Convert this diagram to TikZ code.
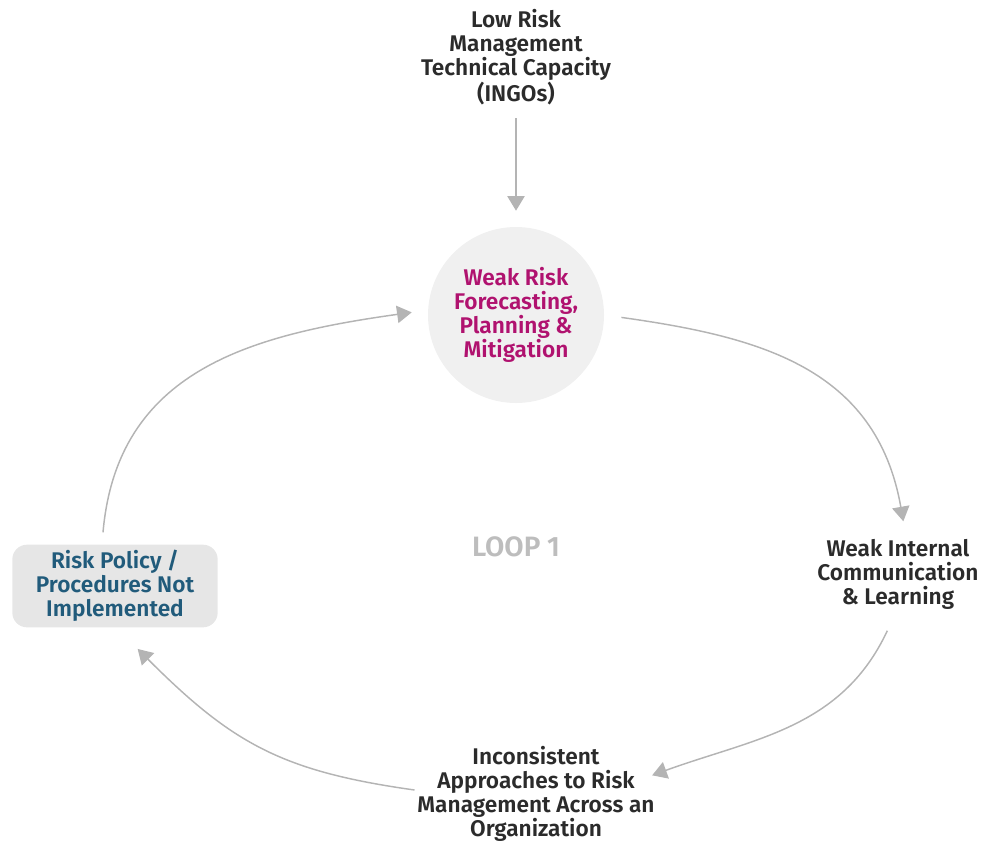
\documentclass[tikz,border=0pt]{standalone}
\usepackage{fontspec}
\setmainfont{Fira Sans}[BoldFont={Fira Sans SemiBold}]
\usetikzlibrary{arrows.meta}
\definecolor{hubtext}{HTML}{B0126F}
\definecolor{policytext}{HTML}{215B7B}
\definecolor{bodytext}{HTML}{2B2B2B}
\definecolor{linkgray}{HTML}{B4B4B4}
\definecolor{hubfill}{HTML}{F0F0F0}
\definecolor{policyfill}{HTML}{E6E6E6}
\definecolor{looptext}{HTML}{BDBDBD}
\begin{document}
\begin{tikzpicture}[
    x=0.75pt, y=-0.75pt,
    factor/.style={align=center, inner sep=2pt, text=bodytext, font=\fontsize{17}{18}\selectfont\bfseries},
    hub/.style={circle, fill=hubfill, minimum size=132pt, inner sep=0pt, align=center, text=hubtext, font=\fontsize{17}{18}\selectfont\bfseries},
    policy/.style={rectangle, rounded corners=11pt, fill=policyfill, minimum width=154pt, minimum height=62pt, align=center, text=policytext, font=\fontsize{17}{18}\selectfont\bfseries},
    link/.style={-{Triangle[length=11pt,width=13pt]}, draw=linkgray, line width=1.1pt, color=linkgray}
]
\useasboundingbox (0,0) rectangle (982,843);

% Factors
\node[factor] (capacity) at (516,57) {Low Risk\\Management\\Technical Capacity\\(INGOs)};
\node[hub] (forecast) at (516,315) {Weak Risk\\Forecasting,\\Planning \&\\Mitigation};
\node[factor] (comm) at (898,574) {Weak Internal\\Communication\\\& Learning};
\node[factor] (approach) at (536,794) {Inconsistent\\Approaches to Risk\\Management Across an\\Organization};
\node[policy] (policy) at (115,586) {Risk Policy /\\Procedures Not\\Implemented};

% Loop label
\node[font=\fontsize{21}{24}\selectfont\bfseries, text=looptext] (loop) at (516,547) {LOOP 1};

% External driver
\draw[link, shorten <=8pt, shorten >=12pt] (capacity.south) -- (forecast.north);

% Loop arrows
\draw[link, shorten <=13pt] (forecast.east) to[out=-8, in=100, looseness=1.1] ([xshift=4pt,yshift=11pt]comm.north);
\draw[link] ([xshift=-8pt,yshift=-14pt]comm.south) to[out=-115, in=20, looseness=1] ([xshift=-4pt,yshift=14pt]approach.east);
\draw[link] ([yshift=3pt]approach.west) to[out=172, in=-45, looseness=1.1] ([xshift=17pt,yshift=-16pt]policy.south);
\draw[link] ([xshift=-9pt,yshift=9pt]policy.north) to[out=85, in=188, looseness=1.1] ([xshift=-12pt,yshift=2pt]forecast.west);

\end{tikzpicture}
\end{document}
